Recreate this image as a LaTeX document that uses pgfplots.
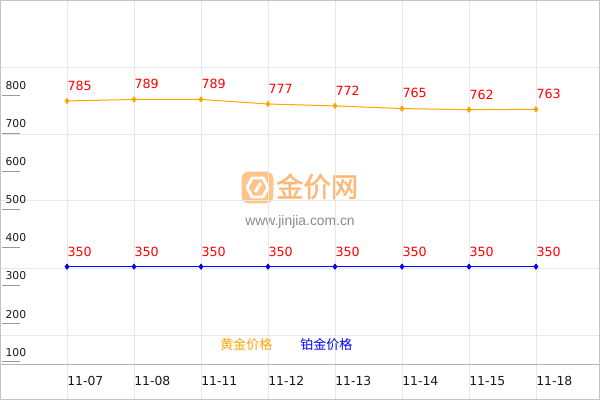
\documentclass[border=0pt]{standalone}
\usepackage{pgfplots}
\pgfplotsset{compat=1.18}
\usepackage{fontspec}
\setmainfont{DejaVu Sans}
\newfontfamily\cjk{Noto Sans CJK SC}
\newfontfamily\cjkbold[FakeBold=1.5]{Noto Sans CJK SC}
\newfontfamily\arial{Liberation Sans}
\definecolor{goldc}{HTML}{FFA500}
\definecolor{platc}{HTML}{0000FF}
\definecolor{gridc}{HTML}{E8E8E8}
\definecolor{borderc}{HTML}{C4C4C4}
\definecolor{axisc}{HTML}{B4B4B4}
\definecolor{tickc}{HTML}{9A9A9A}
\definecolor{logoc}{HTML}{FEC48A}
\definecolor{logotc}{HTML}{FDB878}
\definecolor{urlc}{HTML}{8A8A8A}
\pgfplotstableread{
x y
0 785
1 789
2 789
3 777
4 772
5 765
6 762
7 763
}\gold
\pgfplotstableread{
x y
0 350
1 350
2 350
3 350
4 350
5 350
6 350
7 350
}\plat
\tikzset{xlab/.style={anchor=west, inner sep=0pt, text=black!90, font=\fontsize{9.3}{11}\selectfont}}
\begin{document}
\begin{tikzpicture}[x=0.75pt,y=-0.75pt]
\useasboundingbox (0,0) rectangle (600,400);
% watermark
\fill[logoc, rounded corners=5] (241.7,171.7) rectangle (273.3,203.3);
\draw[white, line width=2.2, line join=round] (252,178) -- (263,178) -- (268,187.5) -- (263,197) -- (252,197) -- (247,187.5) -- cycle;
\draw[white, line width=2.2] (255,192) -- (261,183);
\node[anchor=west, inner sep=0, text=logotc, font=\cjkbold\fontsize{20.5}{22}\selectfont] at (276,186.5) {金价网};
\node[inner sep=0, text=urlc, font=\arial\fontsize{10.4}{12}\selectfont] at (300,222) {www.jinjia.com.cn};
\begin{axis}[at={(0,0)}, anchor=north west,
  width=450pt, height=300pt, scale only axis,
  xmin=-1, xmax=7.9552, ymin=0, ymax=1050,
  axis line style={draw=none},
  xtick={0,...,7}, xticklabels={},
  ytick={170.6,346.5,522.4,698.25,874.1}, yticklabels={},
  major tick length=0pt,
  xmajorgrids, ymajorgrids,
  grid style={color=gridc, line width=0.75pt},
  clip=false,
  /pgf/number format/assume math mode=true,
  nodes near coords,
  every node near coord/.append style={anchor=base west, inner sep=0pt, yshift=8pt, text=red, font=\fontsize{9.5}{11}\selectfont},
]
\addplot[color=goldc, line width=0.75pt, mark=diamond*, mark size=1.8pt, mark options={solid, fill=goldc}] table[x=x,y=y] {\gold};
\addplot[color=platc, line width=0.75pt, mark=diamond*, mark size=1.8pt, mark options={solid, fill=platc}] table[x=x,y=y] {\plat};
% axis line
\draw[axisc, line width=0.75pt] (axis cs:-1,94.5) -- (axis cs:7.9552,94.5);
% y ticks
\pgfplotsinvokeforeach{100,200,...,800}{
  \draw[tickc, line width=0.75pt] (axis cs:-0.970,#1) -- (axis cs:-0.7015,#1);
  \node[anchor=base west, inner sep=0pt, yshift=4.3pt, text=black!90, font=\fontsize{8.1}{9}\selectfont] at (axis cs:-0.921,#1) {#1};
}
% x tick labels
\node[xlab] at (axis cs:0,49.9) {11-07};
\node[xlab] at (axis cs:1,49.9) {11-08};
\node[xlab] at (axis cs:2,49.9) {11-11};
\node[xlab] at (axis cs:3,49.9) {11-12};
\node[xlab] at (axis cs:4,49.9) {11-13};
\node[xlab] at (axis cs:5,49.9) {11-14};
\node[xlab] at (axis cs:6,49.9) {11-15};
\node[xlab] at (axis cs:7,49.9) {11-18};
% legend
\node[anchor=west, inner sep=0pt, text=goldc, font=\cjk\fontsize{9.75}{11}\selectfont] at (axis cs:2.2836,144.4) {黄金价格};
\node[anchor=west, inner sep=0pt, text=platc, font=\cjk\fontsize{9.75}{11}\selectfont] at (axis cs:3.4776,144.4) {铂金价格};
\end{axis}
\draw[borderc, line width=0.75pt] (0.5,0.5) rectangle (599.5,399.5);
\end{tikzpicture}
\end{document}
